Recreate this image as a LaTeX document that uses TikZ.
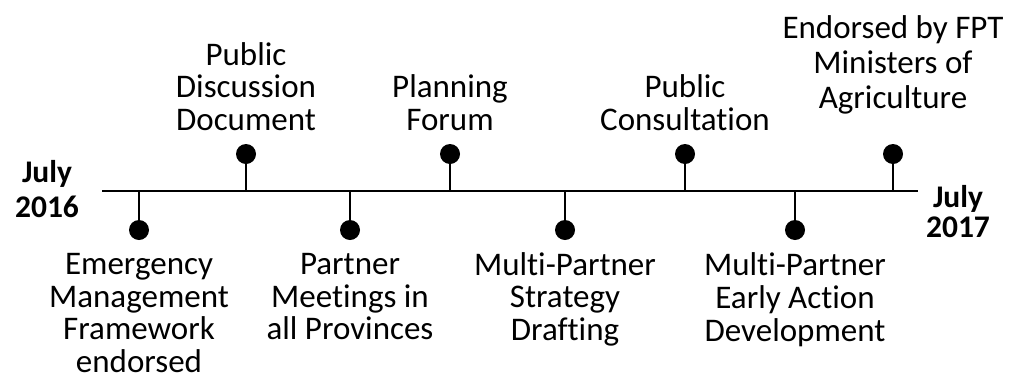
\documentclass[tikz,border=0pt]{standalone}
\usepackage{fontspec}
\setmainfont[Ligatures=NoCommon]{Carlito}
\begin{document}
\begin{tikzpicture}[x=1pt,y=-1pt,
  lab/.style={align=center,font=\fontsize{33}{32.5}\selectfont,inner sep=0pt},
  labwide/.style={align=center,font=\fontsize{33}{35}\selectfont,inner sep=0pt},
  dotnode/.style={circle,fill=black,minimum size=20pt,inner sep=0pt},
  endlabL/.style={align=center,font=\fontsize{31.5}{35}\selectfont\bfseries,inner sep=0pt},
  endlabR/.style={align=center,font=\fontsize{31.5}{28}\selectfont\bfseries,inner sep=0pt},
  axis/.style={line width=2.5pt},
  tick/.style={line width=2.2pt}]
\useasboundingbox (0,0) rectangle (1019,381);
\coordinate (ls) at (102,191);
\coordinate (le) at (918,191);
\draw[axis] (ls) -- (le);
% below events
\foreach \n/\x in {1/139,3/350,5/565,7/795}{
  \coordinate (b\n) at (\x,191);
  \node[dotnode] (d\n) at (\x,230) {};
  \draw[tick] (b\n) -- (d\n);
}
% above events
\foreach \n/\x in {2/246,4/450,6/685,8/893}{
  \coordinate (b\n) at (\x,191);
  \node[dotnode] (d\n) at (\x,154) {};
  \draw[tick] (b\n) -- (d\n);
}
\node[lab,anchor=north] (t1) at (139,252) {\strut Emergency\\Management\\Framework\\endorsed};
\node[lab,anchor=north] (t3) at (350,252) {\strut Partner\\Meetings in\\all Provinces};
\node[lab,anchor=north] (t5) at (565,252) {\strut Multi-Partner\\Strategy\\Drafting};
\node[lab,anchor=north] (t7) at (795,252) {\strut Multi-Partner\\Early Action\\Development};
\node[lab,anchor=south] (t2) at (246,140) {Public\\Discussion\\Document\strut};
\node[lab,anchor=south] (t4) at (450,140) {Planning\\Forum\strut};
\node[lab,anchor=south] (t6) at (685,140) {Public\\Consultation\strut};
\node[labwide,anchor=south] (t8) at (893,119) {Endorsed by FPT\\Ministers of\\Agriculture\strut};
\node[endlabL,anchor=north] (js) at (47,158) {\strut July\\2016};
\node[endlabR,anchor=north] (je) at (958,185) {\strut July\\2017};
\end{tikzpicture}
\end{document}
